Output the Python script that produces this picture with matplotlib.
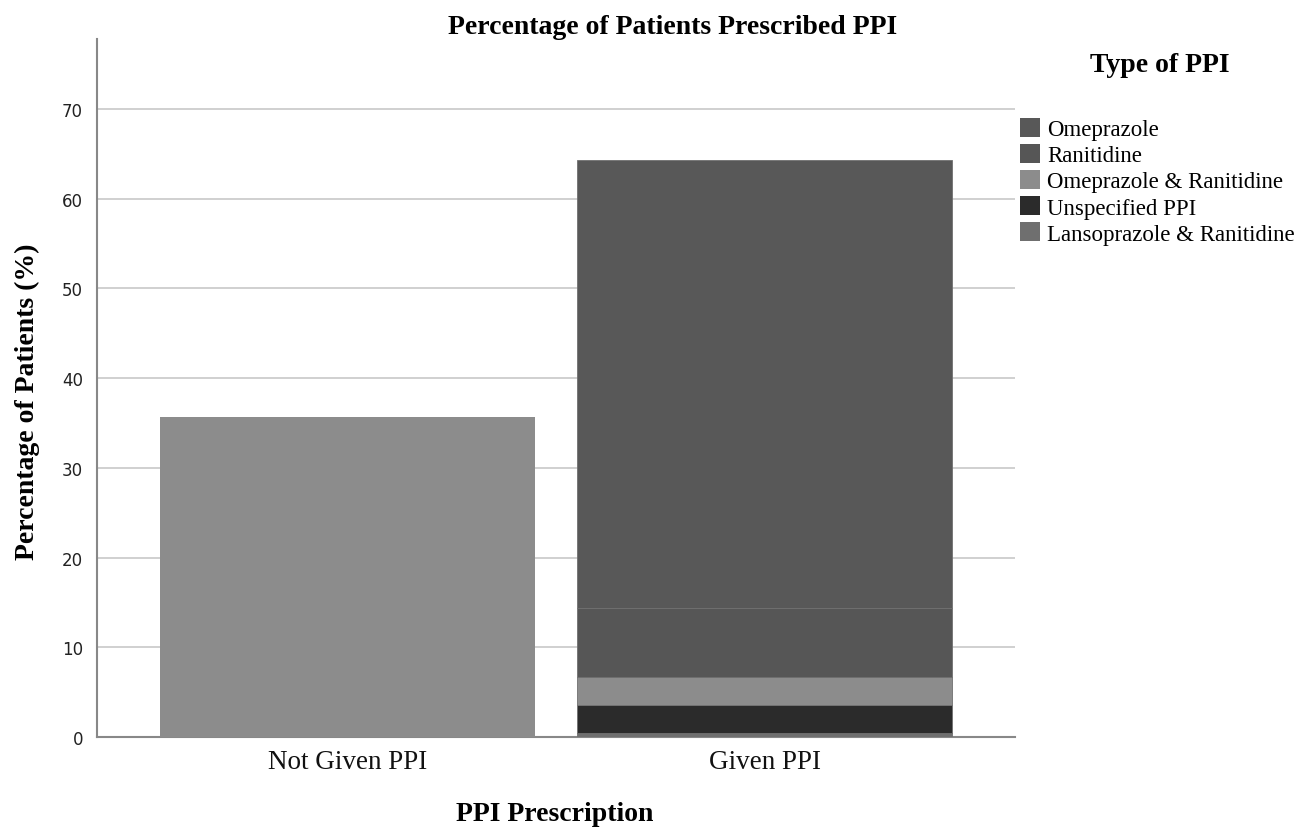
import matplotlib
matplotlib.use("Agg")
import matplotlib.pyplot as plt
from matplotlib.patches import Patch

categories = ["Not Given PPI", "Given PPI"]
not_given_value = 35.7
ppi_types = ["Lansoprazole & Ranitidine", "Unspecified PPI", "Omeprazole & Ranitidine", "Ranitidine", "Omeprazole"]
ppi_values = [0.5, 3.1, 3.1, 7.7, 49.9]
ppi_colors = ["#6f6f6f", "#2b2b2b", "#8c8c8c", "#565656", "#585858"]
legend_order = ["Omeprazole", "Ranitidine", "Omeprazole & Ranitidine", "Unspecified PPI", "Lansoprazole & Ranitidine"]
yticks = [0, 10, 20, 30, 40, 50, 60, 70]

serif = "Liberation Serif"

fig = plt.figure(figsize=(13.01, 8.29), dpi=100)
ax = fig.add_axes([97/1301, 1-738/829, (1015-97)/1301, (738-40)/829])

x = list(range(len(categories)))
ax.bar(x[0], not_given_value, width=0.9, color="#8c8c8c", zorder=3)
bottom = 0
for name, val, col in zip(ppi_types, ppi_values, ppi_colors):
    ax.bar(x[1], val, width=0.9, bottom=bottom, color=col, edgecolor="#707070", linewidth=0.6, zorder=3)
    bottom += val

ax.set_xlim(-0.6, 1.6)
ax.set_ylim(0, 77.8)
ax.set_yticks(yticks)
ax.set_yticklabels([str(t) for t in yticks], fontsize=12, color="#222222")
ax.set_xticks(x)
ax.set_xticklabels(categories, fontsize=19.5, family=serif, color="#111111")
ax.tick_params(axis="y", length=0, pad=10)
ax.tick_params(axis="x", length=0, pad=9)
ax.yaxis.grid(True, color="#c8c8c8", linewidth=1.2, zorder=0)
ax.xaxis.grid(False)
for s in ["top", "right"]:
    ax.spines[s].set_visible(False)
ax.spines["left"].set_color("#888888")
ax.spines["bottom"].set_color("#888888")
ax.spines["left"].set_linewidth(1.5)
ax.spines["bottom"].set_linewidth(1.5)

fig.text(27/1301, 1-402/829, "Percentage of Patients (%)", ha="center", va="center", rotation=90,
         fontsize=20, family=serif, fontweight="bold")
fig.text(555/1301, 1-815/829, "PPI Prescription", ha="center", va="center", fontsize=20, family=serif, fontweight="bold")
fig.text(673/1301, 1-28/829, "Percentage of Patients Prescribed PPI", ha="center", va="center", fontsize=20, family=serif, fontweight="bold")
fig.text(1160/1301, 1-66/829, "Type of PPI", ha="center", va="center", fontsize=20, family=serif, fontweight="bold")

cmap = dict(zip(ppi_types, ppi_colors))
handles = [Patch(facecolor=cmap[n], edgecolor="none") for n in legend_order]
fig.legend(handles, legend_order, loc="upper left", bbox_to_anchor=(1020/1301, 1-119/829),
           frameon=False, prop={"family": serif, "size": 16.5}, handlelength=0.87, handleheight=0.87,
           handletextpad=0.3, labelspacing=0.17, borderaxespad=0, borderpad=0)

fig.savefig("out.png", dpi=100, facecolor="white")
